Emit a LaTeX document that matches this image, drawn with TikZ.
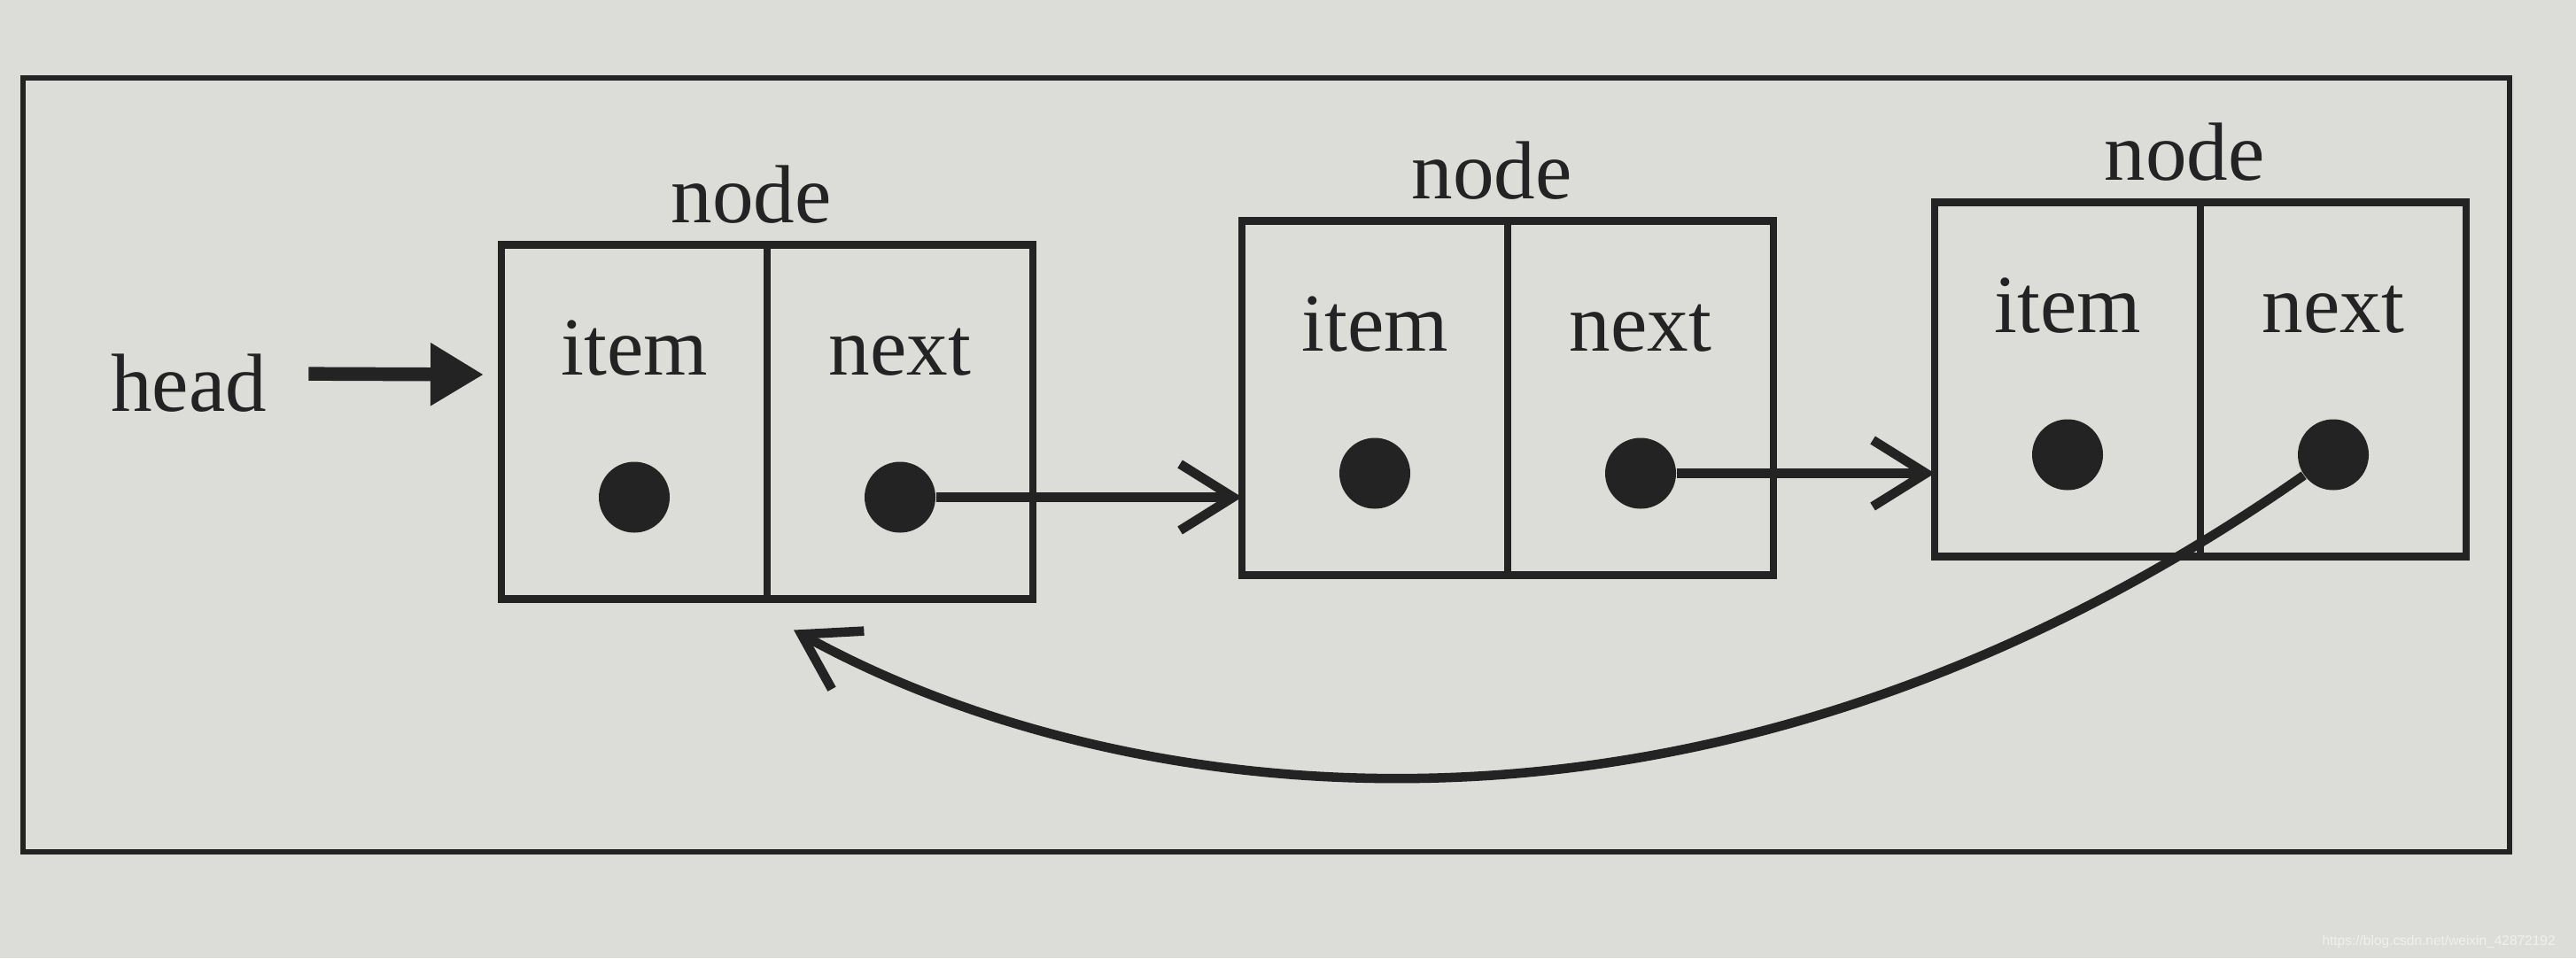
\documentclass[tikz,border=0pt]{standalone}
\usepackage{fontspec}
\setmainfont{Liberation Serif}
\setsansfont{Liberation Sans}
\usetikzlibrary{arrows.meta,positioning,calc}
\definecolor{ink}{HTML}{232323}
\definecolor{paper}{HTML}{DCDCD9}
\definecolor{wmark}{HTML}{F0F0F0}
\tikzset{
  cell/.style={draw=ink,line width=2.5pt,outer sep=0pt,inner xsep=0pt,inner ysep=0pt,
    minimum width=3.0cm,text height=1.47cm,text depth=2.53cm,text=ink,
    font=\fontsize{26.5}{31}\selectfont},
  ptr/.style={circle,fill=ink,inner sep=0pt,minimum size=0.8cm},
  nodetag/.style={anchor=base,text=ink,font=\fontsize{26.5}{31}\selectfont},
  link/.style={-{Straight Barb[length=6mm,width=7.5mm]},draw=ink,line width=3pt},
  headarrow/.style={-{Triangle[length=6mm,width=6.7mm]},draw=ink,line width=4.4pt}
}

\begin{document}
\begin{tikzpicture}[node distance=0pt]
  \useasboundingbox[fill=paper] (0,0) rectangle (29.08,-10.82);
  \draw[ink,line width=1.8pt] (0.26,-0.88) rectangle (28.33,-9.62);

  % first node
  \node[cell] (i1) at (7.16,-4.765) {item};
  \node[cell,right=of i1] (n1) {next};
  \node[nodetag] (l1) at ($(i1.north east)+(-0.18,0.25)$) {node};
  \node[ptr] (d1i) at ($(i1.south)+(0,1.15)$) {};
  \node[ptr] (d1n) at ($(n1.south)+(0,1.15)$) {};

  % second node
  \node[cell] (i2) at (15.52,-4.495) {item};
  \node[cell,right=of i2] (n2) {next};
  \node[nodetag] (l2) at ($(i2.north east)+(-0.18,0.25)$) {node};
  \node[ptr] (d2i) at ($(i2.south)+(0,1.15)$) {};
  \node[ptr] (d2n) at ($(n2.south)+(0,1.15)$) {};

  % third node
  \node[cell] (i3) at (23.34,-4.285) {item};
  \node[cell,right=of i3] (n3) {next};
  \node[nodetag] (l3) at ($(i3.north east)+(-0.18,0.25)$) {node};
  \node[ptr] (d3i) at ($(i3.south)+(0,1.15)$) {};
  \node[ptr] (d3n) at ($(n3.south)+(0,1.15)$) {};

  \node[nodetag] (head) at (2.13,-4.64) {head};
  \coordinate (back) at ($(i1.south east)+(0.3,-0.35)$);

  \draw[headarrow] ($(head.east)+(0.35,0.1)$) -- ($(i1.west)+(-0.2,0.535)$);
  \draw[link] (d1n) -- (d1n -| i2.west);
  \draw[link] (d2n) -- (d2n -| i3.west);
  \draw[link] (d3n) to[out=215,in=-29,out distance=8.4cm,in distance=4cm] (back);

  \node[anchor=east,text=wmark,font=\sffamily\fontsize{4.4}{5}\selectfont] (wm)
    at (28.97,-10.63) {https://blog.csdn.net/weixin\_42872192};
\end{tikzpicture}
\end{document}
